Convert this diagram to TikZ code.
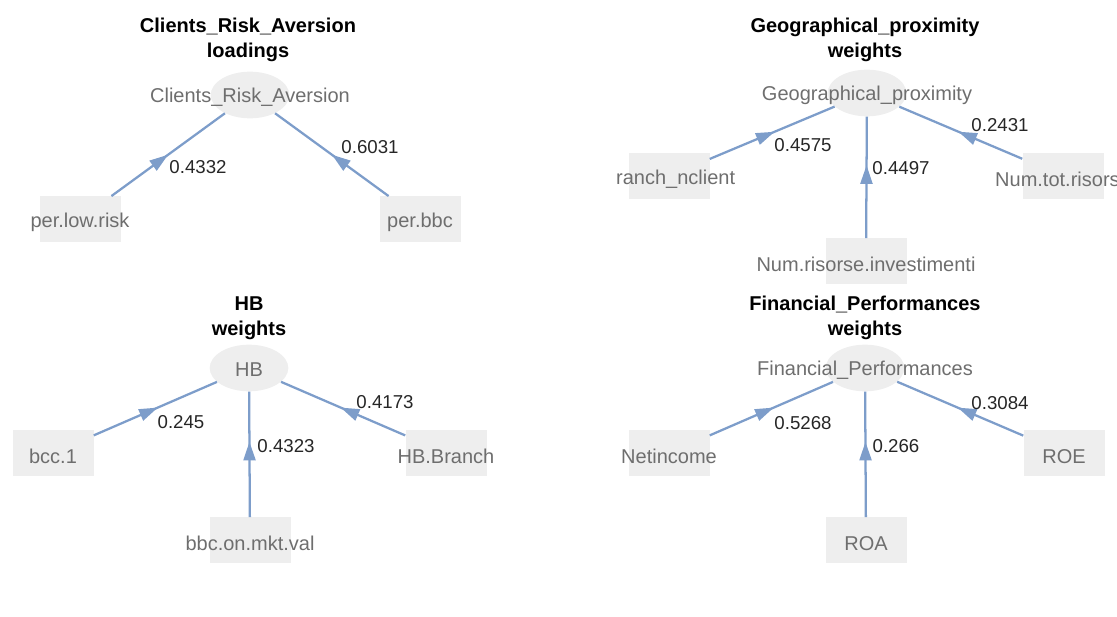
\documentclass[tikz,border=0pt]{standalone}
\usepackage{fontspec}
\setmainfont{Liberation Sans}
\usetikzlibrary{shapes.geometric,arrows.meta,decorations.markings}

\definecolor{bluarco}{HTML}{7D9DCA}
\definecolor{grigiotesto}{HTML}{6E6E6E}
\definecolor{grigionodo}{HTML}{EEEEEE}

\begin{document}
\begin{tikzpicture}[
    x=0.75pt,y=-0.75pt,
    latente/.style={ellipse,fill=grigionodo,inner sep=0pt,minimum width=59pt,minimum height=35pt,
      label={[text=grigiotesto,yshift=-1.5pt,font=\fontsize{15}{17}\selectfont]center:#1}},
    manifesta/.style={rectangle,fill=grigionodo,inner sep=0pt,minimum width=60.75pt,minimum height=34pt,
      label={[text=grigiotesto,yshift=-2.5pt,font=\fontsize{15}{17}\selectfont]center:#1}},
    peso/.style={draw=bluarco,line width=1.7pt},
    punta/.style={postaction={decorate},decoration={markings,
      mark=at position #1 with {\arrow[bluarco]{Triangle[length=14pt,width=9pt]}}}},
    etichetta/.style={inner sep=0pt,text=black!85,font=\fontsize{14}{16}\selectfont},
    titolo/.style={align=center,inner sep=0pt,font=\bfseries\fontsize{15}{18.75}\selectfont}]

  \useasboundingbox (0,0) rectangle (1117,617);
  \clip (0,0) rectangle (1117,617);

  % ---- Clients_Risk_Aversion (loadings) --------------------------------
  \node[titolo] (t1) at (248,40) {Clients\_Risk\_Aversion\\loadings};
  \node[latente=Clients\_Risk\_Aversion] (cra) at (250,95) {};
  \node[manifesta=per.low.risk] (plr) at (80,219) {};
  \node[manifesta=per.bbc] (pbb) at (420,219) {};

  \draw[peso,punta=0.5] (plr) -- (cra);
  \draw[peso,punta=0.5] (pbb) -- (cra);
  \node[etichetta] (w11) at (198,167) {0.4332};
  \node[etichetta] (w12) at (370,147) {0.6031};

  % ---- Geographical_proximity (weights) --------------------------------
  \begin{scope}
    \clip (617,0) rectangle (1117,300);
    \node[titolo] (t2) at (865,40) {Geographical\_proximity\\weights};
    \node[latente=Geographical\_proximity] (gp) at (867,93) {};
    \node[manifesta=Branch\_nclient] (bnc) at (669,176) {};
    \node[manifesta=Num.tot.risorse] (ntr) at (1063,176) {};
    \node[manifesta=Num.risorse.investimenti] (nri) at (866,261) {};

    \draw[peso,punta=0.52] (bnc) -- (gp);
    \draw[peso,punta=0.6] (nri) -- (gp);
    \draw[peso,punta=0.52] (ntr) -- (gp);
    \node[etichetta] (w21) at (803,145) {0.4575};
    \node[etichetta] (w22) at (901,168) {0.4497};
    \node[etichetta] (w23) at (1000,125) {0.2431};
  \end{scope}

  % ---- HB (weights) ----------------------------------------------------
  \node[titolo] (t3) at (249,318) {HB\\weights};
  \node[latente=HB] (hb) at (249,368) {};
  \node[manifesta=bcc.1] (bcc) at (53,453) {};
  \node[manifesta=HB.Branch] (hbb) at (446,453) {};
  \node[manifesta=bbc.on.mkt.val] (bbc) at (250,540) {};

  \draw[peso,punta=0.52] (bcc) -- (hb);
  \draw[peso,punta=0.6] (bbc) -- (hb);
  \draw[peso,punta=0.52] (hbb) -- (hb);
  \node[etichetta] (w31) at (181,422) {0.245};
  \node[etichetta] (w32) at (286,446) {0.4323};
  \node[etichetta] (w33) at (385,402) {0.4173};

  % ---- Financial_Performances (weights) --------------------------------
  \node[titolo] (t4) at (865,318) {Financial\_Performances\\weights};
  \node[latente=Financial\_Performances] (fp) at (865,368) {};
  \node[manifesta=Netincome] (net) at (669,453) {};
  \node[manifesta=ROE] (roe) at (1064,453) {};
  \node[manifesta=ROA] (roa) at (866,540) {};

  \draw[peso,punta=0.52] (net) -- (fp);
  \draw[peso,punta=0.6] (roa) -- (fp);
  \draw[peso,punta=0.52] (roe) -- (fp);
  \node[etichetta] (w41) at (803,423) {0.5268};
  \node[etichetta] (w42) at (896,446) {0.266};
  \node[etichetta] (w43) at (1000,403) {0.3084};

\end{tikzpicture}
\end{document}
